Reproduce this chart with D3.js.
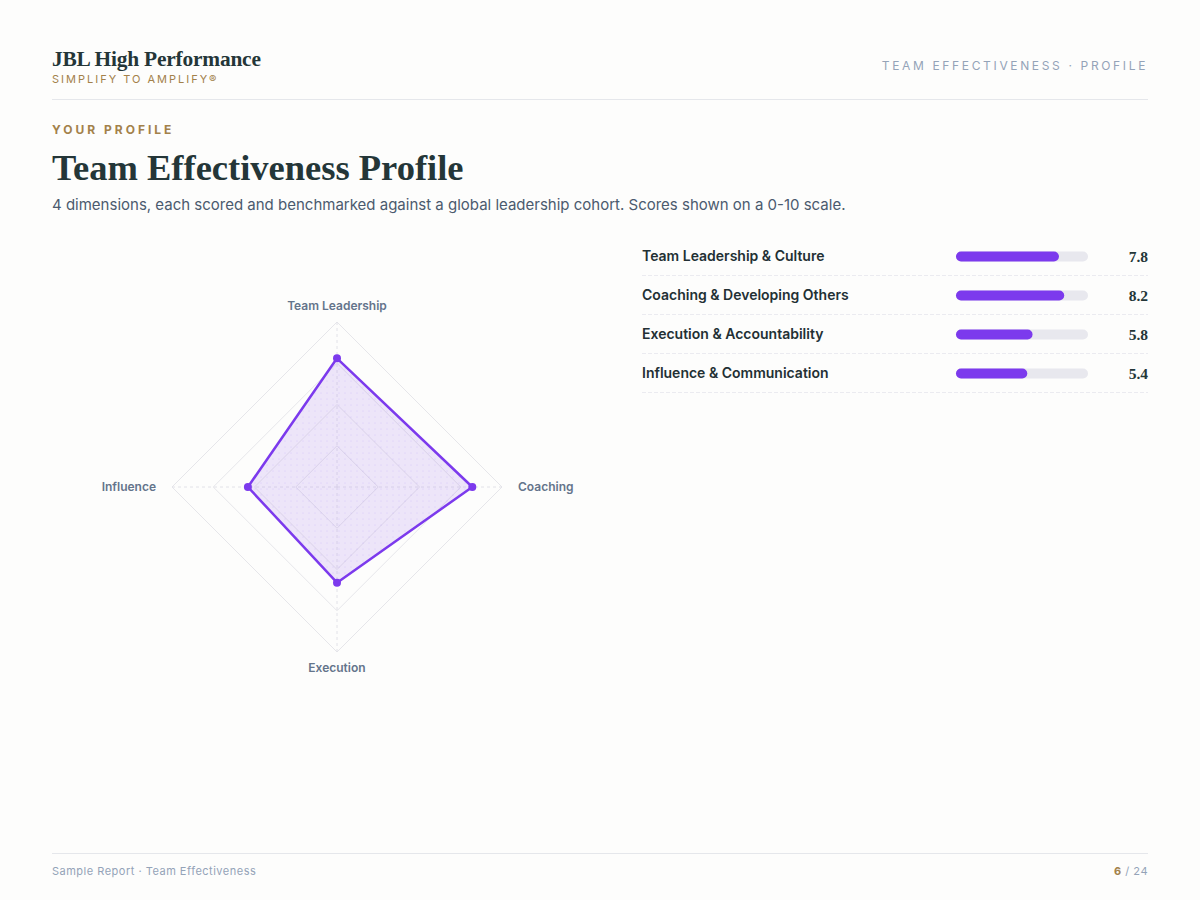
<!DOCTYPE html>
<html><head><meta charset="utf-8">
<script src="https://cdn.jsdelivr.net/npm/d3@7"></script>
<style>
html,body{margin:0;padding:0;background:#fdfdfc;}
svg{display:block;}
</style></head>
<body><svg id="c" width="1200" height="900"></svg>
<script>
const dimensions = ["Team Leadership & Culture","Coaching & Developing Others","Execution & Accountability","Influence & Communication"];
const axisLabels = ["Team Leadership","Coaching","Execution","Influence"];
const scores = [7.8, 8.2, 5.8, 5.4];
const ringLevels = [2.5, 5, 7.5, 10];
const scaleMax = 10;

const svg = d3.select("#c");
const sans = "Inter, 'Noto Sans', sans-serif";
const serif = "'Liberation Serif', 'DejaVu Serif', serif";
const dark = "#243638", gold = "#a3814a", slate = "#64748b", purple = "#7c3aed";

svg.append("rect").attr("width",1200).attr("height",900).attr("fill","#fdfdfc");

// header
svg.append("text").attr("x",52).attr("y",66).attr("font-family",serif).attr("font-weight",700)
  .attr("font-size",21.4).attr("fill",dark).attr("letter-spacing","-0.2").text("JBL High Performance");
svg.append("text").attr("x",52).attr("y",83).attr("font-family",sans).attr("font-size",11)
  .attr("letter-spacing","2").attr("fill",gold).text("SIMPLIFY TO AMPLIFY®");
svg.append("text").attr("x",1148).attr("y",70).attr("text-anchor","end").attr("font-family",sans)
  .attr("font-size",12).attr("letter-spacing","2.65").attr("fill","#94a3b8").text("TEAM EFFECTIVENESS · PROFILE");
svg.append("line").attr("x1",52).attr("x2",1148).attr("y1",99.5).attr("y2",99.5).attr("stroke","#e5e7eb");

svg.append("text").attr("x",52).attr("y",134).attr("font-family",sans).attr("font-weight",700)
  .attr("font-size",12).attr("letter-spacing","3").attr("fill",gold).text("YOUR PROFILE");
svg.append("text").attr("x",52).attr("y",180).attr("font-family",serif).attr("font-weight",700)
  .attr("font-size",36.5).attr("fill",dark).text("Team Effectiveness Profile");
svg.append("text").attr("x",52).attr("y",210).attr("font-family",sans).attr("font-size",15)
  .attr("fill","#4b5a6e").text("4 dimensions, each scored and benchmarked against a global leadership cohort. Scores shown on a 0-10 scale.");

// radar
const cx = 337, cy = 487, R = 165;
const rScale = d3.scaleLinear().domain([0, scaleMax]).range([0, R]);
const angle = i => (i * 2 * Math.PI / axisLabels.length);
const pt = (i, v) => [cx + Math.sin(angle(i)) * rScale(v), cy - Math.cos(angle(i)) * rScale(v)];

const defs = svg.append("defs");
const pat = defs.append("pattern").attr("id","dots").attr("width",6).attr("height",6).attr("patternUnits","userSpaceOnUse");
pat.append("rect").attr("width",6).attr("height",6).attr("fill",purple).attr("fill-opacity",0.12);
pat.append("circle").attr("cx",3).attr("cy",3).attr("r",0.5).attr("fill",purple).attr("fill-opacity",0.25);

const g = svg.append("g");
ringLevels.forEach(l => {
  g.append("polygon").attr("points", axisLabels.map((d,i)=>pt(i,l).join(",")).join(" "))
    .attr("fill","none").attr("stroke","#e6e6ea").attr("stroke-width",1);
});
axisLabels.forEach((d,i) => {
  const [x,y] = pt(i, scaleMax);
  g.append("line").attr("x1",cx).attr("y1",cy).attr("x2",x).attr("y2",y)
    .attr("stroke","#e2e2e8").attr("stroke-dasharray","3,3");
});
const line = d3.line().curve(d3.curveLinearClosed);
g.append("path").attr("d", line(scores.map((v,i)=>pt(i,v))))
  .attr("fill","url(#dots)").attr("stroke",purple).attr("stroke-width",2.5).attr("stroke-linejoin","round");
g.selectAll("circle.p").data(scores).join("circle").attr("class","p")
  .attr("cx",(v,i)=>pt(i,v)[0]).attr("cy",(v,i)=>pt(i,v)[1]).attr("r",4).attr("fill",purple);

const labelPos = [
  {dx:0, dy:-16, anchor:"middle"},
  {dx:16, dy:0, anchor:"start"},
  {dx:0, dy:16, anchor:"middle"},
  {dx:-16, dy:0, anchor:"end"}
];
axisLabels.forEach((d,i) => {
  const [x,y] = pt(i, scaleMax);
  const lp = labelPos[i];
  g.append("text").attr("x", x + lp.dx).attr("y", y + lp.dy).attr("dy","0.35em")
    .attr("text-anchor", lp.anchor).attr("font-family",sans).attr("font-size",12)
    .attr("font-weight",600).attr("fill",slate).text(d);
});

// bars list
const rowY = d3.scaleBand().domain(dimensions).range([236, 392]);
const barX = d3.scaleLinear().domain([0, scaleMax]).range([956, 1088]);
const rows = svg.append("g");
dimensions.forEach((d,i) => {
  const y0 = rowY(d), h = rowY.bandwidth(), mid = y0 + h/2 + 1;
  rows.append("text").attr("x",642).attr("y",mid).attr("dy","0.35em").attr("font-family",sans)
    .attr("font-size",14).attr("font-weight",600).attr("fill","#233034").text(d);
  rows.append("rect").attr("x",barX(0)).attr("y",mid-5).attr("width",barX(scaleMax)-barX(0)).attr("height",10)
    .attr("rx",5).attr("fill","#e8e8ee");
  rows.append("rect").attr("x",barX(0)).attr("y",mid-5).attr("width",barX(scores[i])-barX(0)).attr("height",10)
    .attr("rx",5).attr("fill",purple);
  rows.append("text").attr("x",1148).attr("y",mid).attr("dy","0.35em").attr("text-anchor","end")
    .attr("font-family",serif).attr("font-weight",700).attr("font-size",15.5).attr("fill",dark).text(scores[i].toFixed(1));
  rows.append("line").attr("x1",642).attr("x2",1148).attr("y1",y0+h+0.5).attr("y2",y0+h+0.5)
    .attr("stroke","#ebebf0").attr("stroke-dasharray","4,2");
});

// footer
svg.append("line").attr("x1",52).attr("x2",1148).attr("y1",853.5).attr("y2",853.5).attr("stroke","#e5e7eb");
svg.append("text").attr("x",52).attr("y",875).attr("font-family",sans).attr("font-size",11)
  .attr("letter-spacing","0.5").attr("fill","#94a3b8").text("Sample Report · Team Effectiveness");
const ft = svg.append("text").attr("x",1148).attr("y",875).attr("text-anchor","end").attr("font-family",sans)
  .attr("font-size",11).attr("letter-spacing","0.5").attr("fill","#94a3b8");
ft.append("tspan").attr("fill",gold).attr("font-weight",700).text("6");
ft.append("tspan").text(" / 24");
</script></body></html>
